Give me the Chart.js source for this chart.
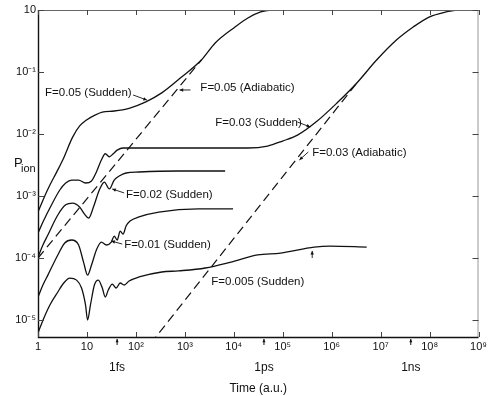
<!DOCTYPE html>
<html><head><meta charset="utf-8">
<script src="https://cdn.jsdelivr.net/npm/chart.js@4.4.0/dist/chart.umd.min.js"></script>
<style>html,body{margin:0;padding:0;background:#fff}</style>
</head><body>
<canvas id="c" width="490" height="396"></canvas>
<script>
// ---- axis ticks ----
const xTickValues = [1, 1e1, 1e2, 1e3, 1e4, 1e5, 1e6, 1e7, 1e8, 1e9];
const xTickLabels = ['1', '10', '10²', '10³', '10⁴', '10⁵', '10⁶', '10⁷', '10⁸', '10⁹'];
const yTickValues = [1e-5, 1e-4, 1e-3, 1e-2, 1e-1, 1];
const yTickLabels = ['10⁻⁵', '10⁻⁴', '10⁻³', '10⁻²', '10⁻¹', '10'];
const unitValues = [41.34, 41341, 4.1341e7];
const unitLabels = ['1fs', '1ps', '1ns'];

// ---- series (time in a.u., P_ion) ----
const f05SuddenT = [1, 1.32, 1.75, 2.42, 3.2, 5.1, 7.1, 9.8, 14.2, 20.6, 36, 72.6, 160, 337, 857, 2175, 4170, 10600, 19400, 35500, 62000, 2e5];
const f05SuddenP = [5.5e-4, 9.3e-4, 1.5e-3, 2.45e-3, 3.8e-3, 8.9e-3, 1.35e-2, 1.68e-2, 2.0e-2, 2.26e-2, 2.35e-2, 2.6e-2, 3.3e-2, 4.6e-2, 8.3e-2, 0.156, 0.294, 0.532, 0.743, 0.93, 1.0, 1.0];

const f03SuddenT = [1, 1.32, 1.75, 2.79, 3.68, 4.87, 6.75, 9.35, 12.4, 15.6, 19.7, 23.7, 28.6, 34.4, 41.5, 55, 116, 1890, 19400, 49000, 99000, 2.0e5, 5.06e5, 1.28e6, 3.26e6, 8.27e6, 2.1e7, 4.63e7, 9.77e7, 2.15e8, 3.77e8, 1e9];
const f03SuddenP = [2.53e-4, 4.1e-4, 6.4e-4, 1.25e-3, 1.62e-3, 1.81e-3, 1.81e-3, 1.62e-3, 1.75e-3, 2.44e-3, 3.8e-3, 4.8e-3, 4.3e-3, 4.8e-3, 5.5e-3, 5.95e-3, 5.95e-3, 5.95e-3, 5.95e-3, 6.4e-3, 7.7e-3, 9.6e-3, 1.62e-2, 3.16e-2, 6.65e-2, 0.156, 0.328, 0.532, 0.77, 0.93, 1.0, 1.0];

const f02SuddenT = [1, 1.26, 1.59, 2.54, 3.68, 5.1, 7.07, 8.93, 10.8, 13.6, 17.9, 22.7, 28.6, 36, 45.6, 63, 116, 745, 6650];
const f02SuddenP = [1.04e-4, 1.62e-4, 2.35e-4, 4.94e-4, 7.2e-4, 7.7e-4, 6.65e-4, 5.1e-4, 4.4e-4, 6.65e-4, 1.25e-3, 1.68e-3, 1.3e-3, 1.81e-3, 2.1e-3, 2.35e-3, 2.44e-3, 2.53e-3, 2.53e-3];

const f01SuddenT = [1, 1.26, 1.59, 2.54, 3.52, 4.87, 6.75, 8.52, 10.3, 12.4, 15.6, 19.7, 24.9, 31.4, 36, 41.5, 47.7, 54.8, 63, 76, 116, 294, 1890, 9660];
const f01SuddenP = [2.35e-5, 3.67e-5, 5.3e-5, 1.12e-4, 1.75e-4, 1.95e-4, 1.62e-4, 8.6e-5, 5.3e-5, 7.7e-5, 1.35e-4, 1.81e-4, 1.62e-4, 1.81e-4, 2.26e-4, 1.95e-4, 2.72e-4, 2.44e-4, 3.28e-4, 3.95e-4, 4.6e-4, 5.5e-4, 6.2e-4, 6.2e-4];

const f005SuddenT = [1, 1.32, 1.75, 2.54, 3.36, 4.44, 6.15, 7.76, 9.35, 10.3, 11.8, 14.2, 17.1, 20.6, 23.7, 27.3, 32.9, 39.6, 47.7, 57.5, 72.6, 116, 337, 745, 2620, 8790, 30900, 90200, 4.4e5, 9.27e5, 5.19e6];
const f005SuddenP = [6.2e-6, 1.08e-5, 1.75e-5, 2.83e-5, 3.95e-5, 4.75e-5, 4.4e-5, 3.28e-5, 1.75e-5, 1.0e-5, 1.75e-5, 3.67e-5, 4.4e-5, 3.28e-5, 2.35e-5, 3.05e-5, 3.8e-5, 3.28e-5, 3.95e-5, 3.67e-5, 4.25e-5, 4.94e-5, 5.95e-5, 6.2e-5, 6.9e-5, 8.6e-5, 1.12e-4, 1.2e-4, 1.5e-4, 1.56e-4, 1.5e-4];

const f05AdiabaticT = [1, 2175];
const f05AdiabaticP = [1e-4, 0.156];
const f03AdiabaticT = [200, 3.26e6];
const f03AdiabaticP = [4.16e-6, 6.65e-2];

// ---- annotations (anchored in data space) ----
const curveLabels = [
  {text: 'F=0.05 (Sudden)',    t: 1.39,  p: 0.0458},
  {text: 'F=0.05 (Adiabatic)', t: 2075,  p: 0.0552},
  {text: 'F=0.03 (Sudden)',    t: 4170,  p: 0.0150},
  {text: 'F=0.03 (Adiabatic)', t: 4.0e5, p: 4.94e-3},
  {text: 'F=0.02 (Sudden)',    t: 63,    p: 1.04e-3},
  {text: 'F=0.01 (Sudden)',    t: 57.5,  p: 1.62e-4},
  {text: 'F=0.005 (Sudden)',   t: 3470,  p: 4.1e-5}
];
const pointers = [
  {t0: 87.5,  p0: 0.0426,  t1: 168,    p1: 0.0353},
  {t0: 1303,  p0: 0.0513,  t1: 780,    p1: 0.0513},
  {t0: 1.99e5,p0: 0.0156,  t1: 3.65e5, p1: 0.0130},
  {t0: 3.33e5,p0: 5.13e-3, t1: 2.19e5, p1: 3.81e-3},
  {t0: 57.5,  p0: 1.12e-3, t1: 32.9,   p1: 1.30e-3},
  {t0: 52.4,  p0: 1.68e-4, t1: 31.4,   p1: 1.88e-4},
  {t0: 4.0e5, p0: 1.0e-4,  t1: 4.0e5,  p1: 1.3e-4}
];

const pts = (T, P) => T.map((t, i) => ({x: t, y: P[i]}));
const solid = (T, P) => ({data: pts(T, P), borderColor: '#111', borderWidth: 1.3, pointRadius: 0, cubicInterpolationMode: 'monotone', fill: false});
const dashed = (T, P) => ({data: pts(T, P), borderColor: '#111', borderWidth: 1.2, borderDash: [9, 5], pointRadius: 0, fill: false});

const FONT = "'Liberation Sans', Arial, sans-serif";

function arrow(ctx, x0, y0, x1, y1, head) {
  ctx.beginPath(); ctx.moveTo(x0, y0); ctx.lineTo(x1, y1); ctx.stroke();
  const ang = Math.atan2(y1 - y0, x1 - x0);
  ctx.beginPath();
  ctx.moveTo(x1, y1);
  ctx.lineTo(x1 - head * Math.cos(ang - 0.45), y1 - head * Math.sin(ang - 0.45));
  ctx.lineTo(x1 - head * Math.cos(ang + 0.45), y1 - head * Math.sin(ang + 0.45));
  ctx.closePath(); ctx.fill();
}

const deco = {
  id: 'deco',
  afterDatasetsDraw(chart) {
    const {ctx, chartArea: a} = chart;
    const x = chart.scales.x, y = chart.scales.y;
    ctx.save();
    // frame
    ctx.lineWidth = 1; ctx.strokeStyle = '#666';
    ctx.beginPath(); ctx.moveTo(a.left, a.top + 0.5); ctx.lineTo(a.right, a.top + 0.5); ctx.stroke();
    ctx.strokeStyle = '#999';
    ctx.beginPath(); ctx.moveTo(a.right - 0.5, a.top); ctx.lineTo(a.right - 0.5, a.bottom); ctx.stroke();
    ctx.strokeStyle = '#111'; ctx.lineWidth = 1.4;
    ctx.beginPath(); ctx.moveTo(a.left + 0.5, a.top); ctx.lineTo(a.left + 0.5, a.bottom + 0.5); ctx.lineTo(a.right, a.bottom + 0.5); ctx.stroke();
    // inward ticks
    ctx.lineWidth = 1; ctx.strokeStyle = '#444';
    xTickValues.forEach(v => {
      const px = Math.round(x.getPixelForValue(v)) + 0.5;
      ctx.beginPath(); ctx.moveTo(px, a.bottom); ctx.lineTo(px, a.bottom - 5);
      ctx.moveTo(px, a.top); ctx.lineTo(px, a.top + 5); ctx.stroke();
    });
    yTickValues.forEach(v => {
      const py = Math.round(y.getPixelForValue(v)) + 0.5;
      ctx.beginPath(); ctx.moveTo(a.left, py); ctx.lineTo(a.left + 6, py);
      ctx.moveTo(a.right, py); ctx.lineTo(a.right - 6, py); ctx.stroke();
    });
    // unit arrows under the axis
    ctx.fillStyle = '#111'; ctx.strokeStyle = '#111'; ctx.lineWidth = 1;
    unitValues.forEach(v => {
      const px = x.getPixelForValue(v);
      arrow(ctx, px, a.bottom + 8, px, a.bottom + 2, 3.5);
    });
    // curve labels
    ctx.font = '11.5px ' + FONT; ctx.textBaseline = 'middle'; ctx.textAlign = 'left';
    curveLabels.forEach(l => ctx.fillText(l.text, x.getPixelForValue(l.t), y.getPixelForValue(l.p)));
    // pointers
    ctx.lineWidth = 0.9;
    pointers.forEach(p => arrow(ctx, x.getPixelForValue(p.t0), y.getPixelForValue(p.p0), x.getPixelForValue(p.t1), y.getPixelForValue(p.p1), 4));
    // y title P_ion
    ctx.font = '13px ' + FONT; ctx.textBaseline = 'alphabetic';
    const ty = y.getPixelForValue(2.94e-3);
    ctx.fillText('P', a.left - 24, ty);
    ctx.font = '11px ' + FONT;
    ctx.fillText('ion', a.left - 17, ty + 5);
    ctx.restore();
  }
};

new Chart(document.getElementById('c'), {
  type: 'line',
  data: {
    datasets: [
      solid(f05SuddenT, f05SuddenP),
      solid(f03SuddenT, f03SuddenP),
      solid(f02SuddenT, f02SuddenP),
      solid(f01SuddenT, f01SuddenP),
      solid(f005SuddenT, f005SuddenP),
      dashed(f05AdiabaticT, f05AdiabaticP),
      dashed(f03AdiabaticT, f03AdiabaticP)
    ]
  },
  options: {
    responsive: false,
    animation: false,
    devicePixelRatio: 1,
    layout: {padding: {left: 0, right: 7, top: 10, bottom: 0}},
    plugins: {legend: {display: false}, tooltip: {enabled: false}},
    scales: {
      x: {
        type: 'logarithmic', position: 'bottom', min: 1, max: 1e9, weight: 1,
        grid: {display: false, drawTicks: false}, border: {display: false},
        afterBuildTicks: s => { s.ticks = xTickValues.map(v => ({value: v})); },
        afterFit: s => { s.height = 20; },
        ticks: {autoSkip: false, maxRotation: 0, padding: 3, color: '#111', font: {family: FONT, size: 11},
                callback: (v, i) => xTickLabels[i]}
      },
      x2: {
        type: 'logarithmic', position: 'bottom', min: 1, max: 1e9, weight: 2,
        grid: {display: false, drawTicks: false}, border: {display: false},
        afterBuildTicks: s => { s.ticks = unitValues.map(v => ({value: v})); },
        afterFit: s => { s.height = 39; },
        ticks: {autoSkip: false, maxRotation: 0, padding: 3, color: '#111', font: {family: FONT, size: 12},
                callback: (v, i) => unitLabels[i]},
        title: {display: true, text: 'Time (a.u.)', color: '#111', font: {family: FONT, size: 12}, padding: {top: 0, bottom: 0}}
      },
      y: {
        type: 'logarithmic', position: 'left', min: 5.32e-6, max: 1,
        grid: {display: false, drawTicks: false}, border: {display: false},
        afterBuildTicks: s => { s.ticks = yTickValues.map(v => ({value: v})); },
        afterFit: s => { s.width = 38; },
        ticks: {autoSkip: false, padding: 2, color: '#111', font: {family: FONT, size: 11},
                callback: (v, i) => yTickLabels[i]}
      }
    }
  },
  plugins: [deco]
});
</script>
</body></html>
